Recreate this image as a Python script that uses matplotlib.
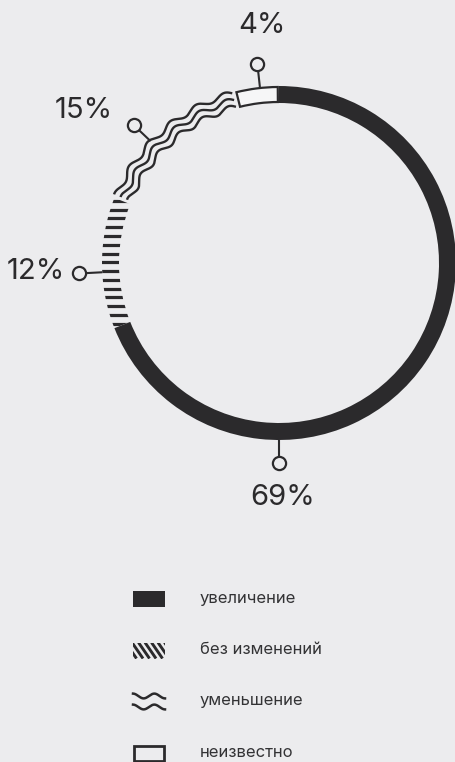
import numpy as np
import matplotlib
matplotlib.use('Agg')
import matplotlib.pyplot as plt
from matplotlib.patches import Wedge, Rectangle

# shares of answers, in drawing order (clockwise from 12 o'clock)
categories = ['увеличение', 'без изменений', 'уменьшение', 'неизвестно']
shares = [69, 12, 15, 4]
styles = ['solid', 'stripes', 'waves', 'empty']

# where the callouts sit around the ring (degrees)
leader_angles = [270, 183, 136.5, 96.2]
text_angles = [271, 182, 142, 94]
text_radii = [235, 243, 248, 238]

W, H = 455, 762
bg = '#ececee'
ink = '#2b2a2c'
cx, cy = 279, H - 263
R, ring = 177, 17

plt.rcParams['font.family'] = ['Inter', 'DejaVu Sans']

fig = plt.figure(figsize=(W / 100, H / 100), dpi=100, facecolor=bg)
ax = fig.add_axes([0, 0, 1, 1])
ax.set_xlim(0, W)
ax.set_ylim(0, H)
ax.set_aspect('equal')
ax.axis('off')


def stripes_in(patch, ys, x0, x1, lw):
    for y in ys:
        ln, = ax.plot([x0, x1], [y, y], color=ink, lw=lw, solid_capstyle='butt')
        ln.set_clip_path(patch)


def arc_wave(t1, t2, radius, amp=2.7, wavelength=29, mid=169):
    t = np.radians(np.linspace(t1, t2, 500))
    s = (t - t[0]) * mid
    r = radius + amp * np.sin(2 * np.pi * s / wavelength)
    return cx + r * np.cos(t), cy + r * np.sin(t)


# ring segments
start = 90.0
for share, style in zip(shares, styles):
    span = share * 3.6
    t2, t1 = start, start - span
    start = t1
    if style == 'solid':
        ax.add_patch(Wedge((cx, cy), R, t1, t2, width=ring, facecolor=ink, edgecolor='none'))
    elif style == 'stripes':
        clip = Wedge((cx, cy), R, t1, t2, width=ring, facecolor='none', edgecolor='none')
        ax.add_patch(clip)
        ys = cy + 0.7 + 8.77 * np.arange(-10, 11)
        stripes_in(clip, ys, cx - R - 5, cx - R + 40, 2.3)
    elif style == 'waves':
        for rad in (162, 169, 176):
            x, y = arc_wave(t1 + 1.0, t2 - 1.0, rad)
            ax.plot(x, y, color=ink, lw=1.7, solid_capstyle='butt')
    else:
        ax.add_patch(Wedge((cx, cy), R - 1, t1 + 0.4, t2 - 0.4, width=ring - 2,
                           facecolor='#f6f6f7', edgecolor=ink, lw=1.6))

# callouts
for share, la, ta, tr in zip(shares, leader_angles, text_angles, text_radii):
    a = np.radians(la)
    rc = 200
    ax.plot([cx + R * np.cos(a), cx + (rc - 5) * np.cos(a)],
            [cy + R * np.sin(a), cy + (rc - 5) * np.sin(a)],
            color=ink, lw=1.5, solid_capstyle='butt')
    ax.plot(cx + rc * np.cos(a), cy + rc * np.sin(a), 'o', ms=9.5,
            mfc=bg, mec=ink, mew=1.6)
    b = np.radians(ta)
    ax.text(cx + tr * np.cos(b), cy + tr * np.sin(b), f'{share}%',
            fontsize=21, color=ink, ha='center', va='center')

# legend
lx0, lx1 = 133, 165
ly0, step = H - 599, 51.5
for i, (name, style) in enumerate(zip(categories, styles)):
    yc = ly0 - i * step
    if style == 'solid':
        ax.add_patch(Rectangle((lx0, yc - 8), lx1 - lx0, 16, facecolor=ink, edgecolor='none'))
    elif style == 'stripes':
        box = Rectangle((lx0, yc - 8), lx1 - lx0, 16, facecolor='none', edgecolor='none')
        ax.add_patch(box)
        for x in np.arange(lx0 - 14, lx1 + 4, 6.5):
            ln, = ax.plot([x, x + 11], [yc + 8, yc - 8], color=ink, lw=2.1,
                          solid_capstyle='butt')
            ln.set_clip_path(box)
    elif style == 'waves':
        xs = np.linspace(lx0, lx1, 200)
        for off in (6, -5):
            ax.plot(xs, yc + off + 2.4 * np.cos(2 * np.pi * (xs - lx0) / 21.3),
                    color=ink, lw=1.8)
    else:
        ax.add_patch(Rectangle((lx0 + 1, yc - 7.5), lx1 - lx0 - 2, 15,
                               facecolor='none', edgecolor=ink, lw=2))
    ax.text(200, yc - 3.5, name, fontsize=12, color='#333335',
            ha='left', va='baseline')

fig.savefig('out.png', dpi=100, facecolor=bg)
